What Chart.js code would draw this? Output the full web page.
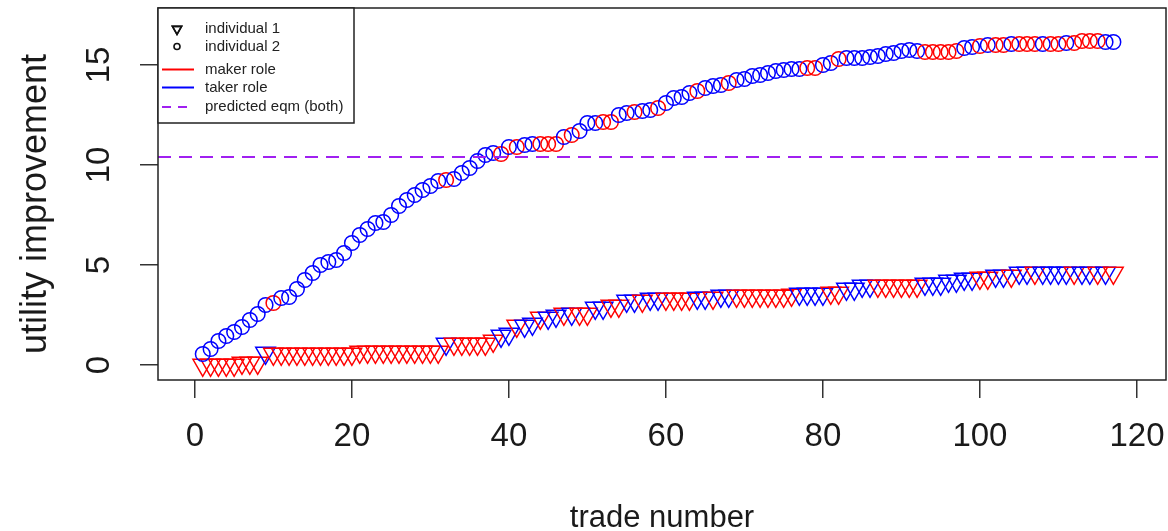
<!DOCTYPE html>
<html>
<head>
<meta charset="utf-8">
<script src="https://cdn.jsdelivr.net/npm/chart.js@4"></script>
<style>
  body { margin: 0; background: #fff; }
  canvas { display: block; }
</style>
</head>
<body>
<canvas id="chart" width="1168" height="531"></canvas>
<script>
// trade numbers
const trades = [
  1, 2, 3, 4, 5, 6, 7, 8, 9, 10, 11, 12, 13, 14, 15, 16, 17, 18, 19, 20,
  21, 22, 23, 24, 25, 26, 27, 28, 29, 30, 31, 32, 33, 34, 35, 36, 37, 38, 39, 40,
  41, 42, 43, 44, 45, 46, 47, 48, 49, 50, 51, 52, 53, 54, 55, 56, 57, 58, 59, 60,
  61, 62, 63, 64, 65, 66, 67, 68, 69, 70, 71, 72, 73, 74, 75, 76, 77, 78, 79, 80,
  81, 82, 83, 84, 85, 86, 87, 88, 89, 90, 91, 92, 93, 94, 95, 96, 97, 98, 99, 100,
  101, 102, 103, 104, 105, 106, 107, 108, 109, 110, 111, 112, 113, 114, 115, 116, 117
];

// individual 1 (triangles)
const ind1Value = [
  0, 0, 0, 0, 0, 0.1, 0.1, 0.1, 0.6, 0.55,
  0.55, 0.55, 0.55, 0.55, 0.55, 0.55, 0.55, 0.55, 0.55, 0.55,
  0.65, 0.65, 0.65, 0.65, 0.65, 0.65, 0.65, 0.65, 0.65, 0.65,
  0.65, 1.05, 1.05, 1.05, 1.05, 1.05, 1.05, 1.2, 1.45, 1.55,
  1.95, 1.95, 2.05, 2.35, 2.35, 2.45, 2.55, 2.55, 2.55, 2.55,
  2.85, 2.85, 2.95, 2.95, 3.2, 3.2, 3.2, 3.3, 3.3, 3.3,
  3.3, 3.3, 3.3, 3.35, 3.35, 3.35, 3.45, 3.45, 3.45, 3.45,
  3.45, 3.45, 3.45, 3.45, 3.45, 3.5, 3.55, 3.55, 3.55, 3.55,
  3.6, 3.6, 3.8, 3.8, 3.95, 3.95, 3.95, 3.95, 3.95, 3.95,
  3.95, 3.95, 4.05, 4.05, 4.05, 4.2, 4.2, 4.3, 4.3, 4.35,
  4.35, 4.45, 4.45, 4.45, 4.6, 4.6, 4.6, 4.6, 4.6, 4.6,
  4.6, 4.6, 4.6, 4.6, 4.6, 4.6, 4.6
];
// M = maker role, T = taker role
const ind1Role = [
  'M','M','M','M','M','M','M','M','T','M',
  'M','M','M','M','M','M','M','M','M','M',
  'M','M','M','M','M','M','M','M','M','M',
  'M','T','M','M','M','M','M','M','T','T',
  'M','T','T','M','T','T','M','T','M','M',
  'T','T','M','M','T','T','M','T','T','M',
  'M','M','M','T','T','M','T','T','M','M',
  'M','M','M','M','M','M','T','T','T','T',
  'M','M','T','T','T','T','M','M','M','M',
  'M','M','T','T','T','T','T','T','T','M',
  'M','T','T','M','T','T','M','T','T','T',
  'T','M','T','T','M','T','M'
];

// individual 2 (circles)
const ind2Value = [
  0.55, 0.8, 1.2, 1.45, 1.65, 1.9, 2.25, 2.55, 3.0, 3.1,
  3.35, 3.4, 3.8, 4.25, 4.6, 5.0, 5.15, 5.25, 5.6, 6.1,
  6.5, 6.8, 7.1, 7.15, 7.5, 7.95, 8.25, 8.5, 8.75, 8.95,
  9.2, 9.25, 9.3, 9.6, 9.85, 10.2, 10.5, 10.6, 10.55, 10.9,
  10.9, 11.0, 11.05, 11.05, 11.05, 11.05, 11.4, 11.5, 11.7, 12.1,
  12.1, 12.15, 12.15, 12.5, 12.6, 12.65, 12.7, 12.75, 12.85, 13.1,
  13.35, 13.4, 13.6, 13.7, 13.85, 13.95, 14.0, 14.1, 14.25, 14.3,
  14.45, 14.5, 14.6, 14.7, 14.75, 14.8, 14.8, 14.85, 14.85, 15.0,
  15.1, 15.3, 15.35, 15.35, 15.35, 15.4, 15.45, 15.55, 15.6, 15.7,
  15.75, 15.7, 15.65, 15.65, 15.65, 15.65, 15.7, 15.85, 15.9, 15.95,
  16.0, 16.0, 16.0, 16.05, 16.05, 16.05, 16.05, 16.05, 16.05, 16.05,
  16.1, 16.1, 16.2, 16.2, 16.2, 16.15, 16.15
];
const ind2Role = [
  'T','T','T','T','T','T','T','T','T','M',
  'T','T','T','T','T','T','T','T','T','T',
  'T','T','T','T','T','T','T','T','T','T',
  'T','M','T','T','T','T','T','T','M','T',
  'M','T','T','M','M','M','T','M','T','T',
  'T','M','M','T','T','M','T','T','M','T',
  'T','T','T','M','T','T','T','M','T','T',
  'T','T','T','T','T','T','T','M','M','T',
  'T','M','T','T','T','T','T','T','T','T',
  'T','T','M','M','M','M','M','T','T','M',
  'T','M','M','T','M','M','M','T','M','M',
  'T','M','M','M','M','T','T'
];

const eqmLevel = 10.4;
const xTicks = [0, 20, 40, 60, 80, 100, 120];
const yTicks = [0, 5, 10, 15];
const legendLabels = ['individual 1', 'individual 2', 'maker role', 'taker role', 'predicted eqm (both)'];

const X_MIN = -4.7, X_MAX = 123.7;
const Y_MIN = -0.75, Y_MAX = 17.85;
const RED = '#ff0000', BLUE = '#0000ff', PURPLE = '#a020f0';
const FONT = '"Liberation Sans", Arial, sans-serif';
const roleColor = r => (r === 'M' ? RED : BLUE);

// R style text, legend and frame
const rStyle = {
  id: 'rStyle',
  afterDraw(chart) {
    const ctx = chart.ctx;
    const { left, right, top, bottom } = chart.chartArea;
    const xs = chart.scales.x, ys = chart.scales.y;
    ctx.save();

    // frame
    ctx.strokeStyle = '#222';
    ctx.lineWidth = 1.5;
    ctx.strokeRect(left, top, right - left, bottom - top);

    // tick labels
    ctx.fillStyle = '#1a1a1a';
    ctx.font = '33px ' + FONT;
    ctx.textAlign = 'center';
    ctx.textBaseline = 'middle';
    xs.ticks.forEach(t => ctx.fillText(String(t.value), xs.getPixelForValue(t.value), 437));
    ys.ticks.forEach(t => {
      ctx.save();
      ctx.translate(100, ys.getPixelForValue(t.value));
      ctx.rotate(-Math.PI / 2);
      ctx.fillText(String(t.value), 0, 0);
      ctx.restore();
    });

    // axis titles
    ctx.textBaseline = 'alphabetic';
    ctx.font = '31px ' + FONT;
    ctx.fillText('trade number', (left + right) / 2, 527);
    ctx.save();
    ctx.font = '36px ' + FONT;
    ctx.translate(46, (top + bottom) / 2 + 10);
    ctx.rotate(-Math.PI / 2);
    ctx.fillText('utility improvement', 0, 0);
    ctx.restore();

    // legend
    const lx = left, ly = top, lw = 196, lh = 115;
    ctx.fillStyle = '#fff';
    ctx.fillRect(lx, ly, lw, lh);
    ctx.strokeStyle = '#222';
    ctx.lineWidth = 1.5;
    ctx.strokeRect(lx, ly, lw, lh);
    const rows = [29, 46.5, 69.5, 87.5, 107];
    const sx = lx + 19;
    ctx.strokeStyle = '#111';
    ctx.lineWidth = 1.6;
    Chart.helpers.drawPoint(ctx, { pointStyle: 'triangle', rotation: 180, radius: 5.3, borderWidth: 1.6 }, sx, rows[0]);
    ctx.stroke();
    ctx.beginPath();
    ctx.arc(sx, rows[1], 3, 0, Math.PI * 2);
    ctx.stroke();
    const seg = (color, y, dash) => {
      ctx.beginPath();
      ctx.strokeStyle = color;
      ctx.lineWidth = 2;
      ctx.setLineDash(dash);
      ctx.moveTo(lx + 4, y);
      ctx.lineTo(lx + 36, y);
      ctx.stroke();
      ctx.setLineDash([]);
    };
    seg(RED, rows[2], []);
    seg(BLUE, rows[3], []);
    seg(PURPLE, rows[4], [9, 7]);
    ctx.fillStyle = '#222';
    ctx.font = '15px ' + FONT;
    ctx.textAlign = 'left';
    ctx.textBaseline = 'middle';
    legendLabels.forEach((s, i) => ctx.fillText(s, lx + 47, rows[i]));

    ctx.restore();
  }
};

new Chart(document.getElementById('chart'), {
  type: 'scatter',
  data: {
    datasets: [
      {
        type: 'line',
        data: [{ x: X_MIN, y: eqmLevel }, { x: X_MAX, y: eqmLevel }],
        borderColor: PURPLE,
        borderWidth: 2,
        borderDash: [13, 8],
        pointRadius: 0,
        fill: false
      },
      {
        data: trades.map((t, i) => ({ x: t, y: ind2Value[i] })),
        pointStyle: 'circle',
        pointRadius: 7.3,
        pointBorderWidth: 1.5,
        pointBackgroundColor: 'rgba(0,0,0,0)',
        pointBorderColor: ind2Role.map(roleColor)
      },
      {
        data: trades.map((t, i) => ({ x: t, y: ind1Value[i] })),
        pointStyle: 'triangle',
        pointRotation: 180,
        pointRadius: 11.3,
        pointBorderWidth: 1.5,
        pointBackgroundColor: 'rgba(0,0,0,0)',
        pointBorderColor: ind1Role.map(roleColor)
      }
    ]
  },
  options: {
    responsive: false,
    animation: false,
    devicePixelRatio: 1,
    layout: { autoPadding: false, padding: { top: 8, right: 2, left: 0, bottom: 0 } },
    plugins: { legend: { display: false }, tooltip: { enabled: false } },
    scales: {
      x: {
        type: 'linear',
        min: X_MIN,
        max: X_MAX,
        afterBuildTicks: s => { s.ticks = xTicks.map(v => ({ value: v })); },
        afterFit: s => { s.height = 151; s.paddingLeft = 0; s.paddingRight = 0; },
        ticks: { color: 'rgba(0,0,0,0)', font: { size: 1 }, padding: 0 },
        grid: { drawOnChartArea: false, tickLength: 18, color: '#333', lineWidth: 1.5 },
        border: { display: false }
      },
      y: {
        type: 'linear',
        min: Y_MIN,
        max: Y_MAX,
        afterBuildTicks: s => { s.ticks = yTicks.map(v => ({ value: v })); },
        afterFit: s => { s.width = 158; s.paddingTop = 0; s.paddingBottom = 0; },
        ticks: { color: 'rgba(0,0,0,0)', font: { size: 1 }, padding: 0 },
        grid: { drawOnChartArea: false, tickLength: 18, color: '#333', lineWidth: 1.5 },
        border: { display: false }
      }
    }
  },
  plugins: [rStyle]
});
</script>
</body>
</html>
